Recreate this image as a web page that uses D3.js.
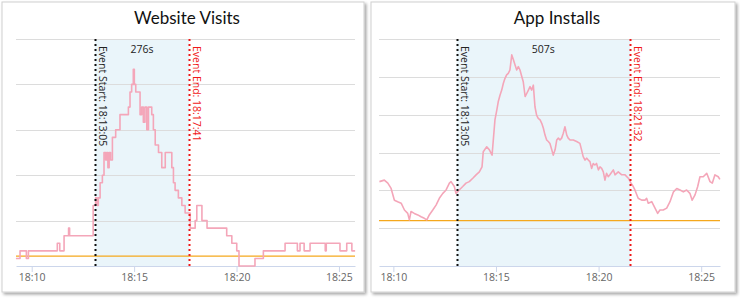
<!DOCTYPE html>
<html>
<head>
<meta charset="utf-8">
<script src="https://cdn.jsdelivr.net/npm/d3@7"></script>
<style>
  body { margin: 0; background: #fff; }
  svg { display: block; }
</style>
</head>
<body>
<div id="chart"></div>
<script>
// minutes past 18:00 and counts
var visitMinutes = [9.23, 9.43, 9.74, 9.84, 11.25, 11.37, 11.58, 11.80, 11.85, 13.00, 13.12, 13.20, 13.25,
    13.34, 13.45, 13.53, 13.61, 13.66, 13.72, 13.78, 13.85, 13.94, 14.10, 14.31, 14.72, 14.80, 14.88,
    14.96, 15.01, 15.08, 15.29, 15.37, 15.45, 15.53, 15.62, 15.70, 15.86, 15.94, 16.03, 16.19, 16.35,
    16.52, 16.84, 16.92, 17.00, 17.16, 17.33, 17.49, 17.74, 17.98, 18.06, 18.31, 18.56, 19.52, 19.60,
    19.77, 20.01, 20.12, 20.90, 21.31, 22.37, 22.97, 23.10, 23.30, 23.59, 24.33, 24.38, 25.05, 25.38,
    25.63, 25.79];
var visitCounts = [1, 2, 1, 2, 3, 2, 4, 5, 4, 8, 9, 8, 9,
    11, 12, 15, 14, 15, 13, 15, 14, 17, 18, 20, 21, 23, 24,
    26, 24, 23, 20, 21, 19, 21, 18, 21, 20, 18, 16, 15, 13,
    15, 13, 11, 10, 9, 8, 7, 5, 6, 8, 6, 5, 4, 4,
    3, 2, 0, 1, 2, 3, 2, 3, 2, 3, 2, 3, 2, 3,
    2, 2];

var installMinutes = [9.32, 9.56, 9.73, 9.89, 10.05, 10.21, 10.38, 10.54, 10.70, 10.78, 10.86, 11.02, 11.19,
    11.35, 11.51, 11.63, 11.75, 11.92, 12.08, 12.24, 12.41, 12.57, 12.73, 12.81, 12.97, 13.05, 13.21,
    13.38, 13.54, 13.70, 13.87, 14.03, 14.19, 14.32, 14.38, 14.55, 14.68, 14.81, 14.87, 14.95, 15.04,
    15.11, 15.20, 15.28, 15.36, 15.44, 15.52, 15.60, 15.68, 15.77, 15.85, 15.93, 16.01, 16.09, 16.17,
    16.26, 16.33, 16.42, 16.50, 16.58, 16.66, 16.74, 16.82, 16.90, 16.98, 17.06, 17.15, 17.23, 17.31,
    17.39, 17.47, 17.55, 17.63, 17.72, 17.79, 17.88, 17.96, 18.04, 18.12, 18.20, 18.28, 18.36, 18.45,
    18.52, 18.61, 18.77, 18.93, 19.09, 19.17, 19.25, 19.34, 19.42, 19.50, 19.58, 19.66, 19.74, 19.82,
    19.90, 19.99, 20.07, 20.15, 20.23, 20.31, 20.39, 20.47, 20.55, 20.72, 20.80, 20.96, 21.13, 21.29,
    21.45, 21.58, 21.69, 21.77, 21.93, 22.10, 22.26, 22.34, 22.42, 22.59, 22.75, 22.88, 22.99, 23.15,
    23.32, 23.48, 23.65, 23.81, 23.97, 24.13, 24.29, 24.45, 24.56, 24.70, 24.83, 24.94, 25.10, 25.27,
    25.43, 25.54, 25.67, 25.83, 25.91];
var installCounts = [22.3, 22.7, 21.9, 20.5, 17.4, 17.0, 16.6, 14.8, 13.9, 12.2, 14.4, 13.9, 13.5,
    13.0, 12.6, 12.2, 13.5, 14.8, 16.1, 17.9, 19.2, 20.1, 21.9, 22.3, 21.0, 19.2, 20.1,
    21.0, 21.9, 22.3, 23.2, 24.1, 24.9, 26.2, 30.2, 31.5, 30.7, 29.3, 33.3, 38.6, 41.2,
    43.4, 45.2, 46.5, 48.3, 49.6, 50.5, 50.9, 51.8, 55.8, 54.5, 53.1, 51.8, 52.7, 51.8,
    50.0, 48.7, 44.8, 45.6, 46.5, 47.4, 46.5, 47.8, 42.1, 39.9, 39.0, 38.6, 37.7, 36.4,
    34.6, 33.3, 32.9, 32.4, 30.7, 29.3, 30.7, 33.3, 33.8, 33.3, 33.8, 35.1, 36.8, 34.6,
    33.8, 33.3, 33.3, 32.9, 32.4, 30.7, 28.9, 28.0, 28.5, 28.0, 27.6, 25.8, 27.1, 26.7,
    27.1, 25.4, 26.2, 25.8, 24.9, 22.7, 24.5, 23.6, 24.1, 25.4, 24.1, 24.9, 24.1, 24.1,
    23.2, 21.9, 21.0, 20.1, 17.9, 17.4, 17.4, 17.9, 16.6, 17.0, 15.3, 13.9, 14.8, 14.8,
    15.3, 17.0, 19.6, 20.5, 20.1, 19.6, 20.1, 19.2, 17.4, 18.8, 21.0, 23.6, 23.6, 24.5,
    22.3, 21.9, 24.1, 23.6, 22.9];

var panelTitles = ["Website Visits", "App Installs"];
var eventStarts = ["18:13:05", "18:13:05"];
var eventEnds = ["18:17:41", "18:21:32"];
var baselines = [1.3, 12];
var yMaxes = [30, 60];
var yGridSteps = [6, 10];
var xStarts = ["18:09:14", "18:09:18"];
var xEnds = ["18:25:47", "18:25:55"];
var tickLabels = ["18:10", "18:15", "18:20", "18:25"];

var W = 740, H = 302;
var parseTime = d3.timeParse("%H:%M:%S");
var fmt = d3.timeFormat("%H:%M");
var base = parseTime("18:00:00");
function minToDate(m) { return new Date(base.getTime() + m * 60000); }

var svg = d3.select("#chart").append("svg")
    .attr("width", W)
    .attr("height", H);

var defs = svg.append("defs");
var shadow = defs.append("filter").attr("id", "shadow")
    .attr("x", "-5%").attr("y", "-5%").attr("width", "115%").attr("height", "115%");
shadow.append("feDropShadow")
    .attr("dx", 2).attr("dy", 2).attr("stdDeviation", 1.5)
    .attr("flood-color", "#000").attr("flood-opacity", 0.35);

var panels = [
    { left: 2, width: 362, plotL: 16, plotR: 355, minutes: visitMinutes, counts: visitCounts, step: true },
    { left: 371, width: 364, plotL: 379, plotR: 720, minutes: installMinutes, counts: installCounts, step: false }
];

var plotTop = 39, plotBottom = 266;

panels.forEach(function (p, i) {
    var g = svg.append("g");

    // panel box
    g.append("rect")
        .attr("x", p.left).attr("y", 2)
        .attr("width", p.width).attr("height", 290)
        .attr("fill", "#fff")
        .attr("stroke", "#d0d0d0")
        .attr("filter", "url(#shadow)");

    g.append("text")
        .attr("x", (p.left + p.width / 2) + 4)
        .attr("y", 24)
        .attr("text-anchor", "middle")
        .style("font-family", "Lato, 'Open Sans', sans-serif")
        .style("font-size", "17px")
        .style("fill", "#111")
        .text(panelTitles[i]);

    var x = d3.scaleTime()
        .domain([parseTime(xStarts[i]), parseTime(xEnds[i])])
        .range([p.plotL, p.plotR]);
    var y = d3.scaleLinear()
        .domain([0, yMaxes[i]])
        .range([plotBottom, plotTop]);

    // event band
    var s = parseTime(eventStarts[i]), e = parseTime(eventEnds[i]);
    g.append("rect")
        .attr("x", x(s)).attr("y", plotTop)
        .attr("width", x(e) - x(s)).attr("height", plotBottom - plotTop)
        .attr("fill", "#eaf5fa");

    // grid
    g.append("g")
        .selectAll("line")
        .data(d3.range(yGridSteps[i], yMaxes[i] + 0.001, yGridSteps[i]))
        .enter().append("line")
        .attr("x1", p.plotL).attr("x2", p.plotR)
        .attr("y1", function (d) { return Math.round(y(d)) + 0.5; })
        .attr("y2", function (d) { return Math.round(y(d)) + 0.5; })
        .attr("stroke", "#dcdcdc");

    // x axis
    var ax = g.append("g")
        .attr("transform", "translate(0," + plotBottom + ")")
        .call(d3.axisBottom(x)
            .tickValues(tickLabels.map(function (t) { return parseTime(t + ":00"); }))
            .tickFormat(fmt)
            .tickSize(6)
            .tickSizeOuter(0)
            .tickPadding(2));
    ax.select(".domain").attr("stroke", "#ccd6eb");
    ax.selectAll(".tick line").attr("stroke", "#ccd6eb");
    ax.selectAll(".tick text")
        .style("font-family", "'Open Sans', sans-serif")
        .style("font-size", "10.5px")
        .style("fill", "#666");

    // baseline
    g.append("line")
        .attr("x1", p.plotL).attr("x2", p.plotR)
        .attr("y1", y(baselines[i])).attr("y2", y(baselines[i]))
        .attr("stroke", "#f5a81c")
        .attr("stroke-width", 1.3);

    // series
    var pts = p.minutes.map(function (m, k) { return { t: minToDate(m), v: p.counts[k] }; });
    var line = d3.line()
        .x(function (d) { return x(d.t); })
        .y(function (d) { return y(d.v); })
        .curve(p.step ? d3.curveStepAfter : d3.curveLinear);
    g.append("path")
        .datum(pts)
        .attr("d", line)
        .attr("fill", "none")
        .attr("stroke", "#f4a6b9")
        .attr("stroke-width", 1.6)
        .attr("stroke-linejoin", "round");

    // event lines
    [[s, "#111", "Event Start: " + eventStarts[i]], [e, "#f01818", "Event End: " + eventEnds[i]]].forEach(function (ev) {
        var xp = Math.round(x(ev[0])) + 0.5;
        g.append("line")
            .attr("x1", xp).attr("x2", xp)
            .attr("y1", plotTop).attr("y2", plotBottom)
            .attr("stroke", ev[1])
            .attr("stroke-width", 2)
            .attr("stroke-dasharray", "2,3");
        g.append("text")
            .attr("transform", "translate(" + (xp + 3) + "," + (plotTop + 7) + ") rotate(90)")
            .style("font-family", "'Open Sans', sans-serif")
            .style("font-size", "10.5px")
            .style("fill", ev[1] === "#111" ? "#222" : "#f01818")
            .text(ev[2]);
    });

    g.append("text")
        .attr("x", (x(s) + x(e)) / 2)
        .attr("y", plotTop + 14)
        .attr("text-anchor", "middle")
        .style("font-family", "'Open Sans', sans-serif")
        .style("font-size", "10.5px")
        .style("fill", "#222")
        .text(Math.round((e - s) / 1000) + "s");
});
</script>
</body>
</html>
